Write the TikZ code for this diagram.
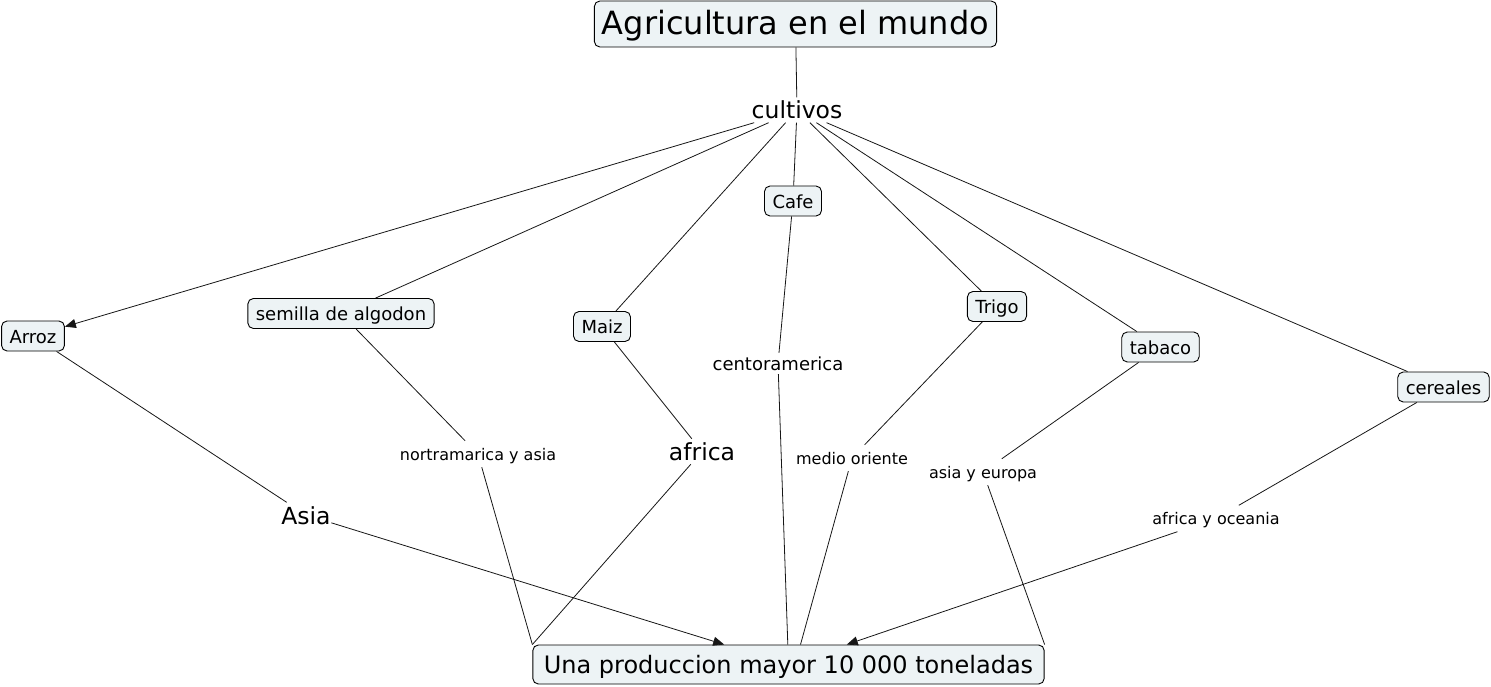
\documentclass[tikz,border=0pt]{standalone}
\usepackage{fontspec}
\setmainfont{DejaVu Sans}
\usetikzlibrary{arrows.meta}
\definecolor{ink}{HTML}{000000}
\definecolor{pale}{HTML}{EDF3F5}
\definecolor{wire}{HTML}{161616}
\tikzset{
  box/.style={draw=ink,line width=0.9pt,rounded corners=5.5pt,fill=pale,align=center,
    font=\fontsize{18}{20}\selectfont,inner xsep=8pt,inner ysep=6pt,
    text height=16pt,text depth=2pt},
  titlebox/.style={box,font=\fontsize{32}{35}\selectfont,inner xsep=7.5pt,inner ysep=7pt,
    text height=27pt,text depth=5pt},
  prodbox/.style={box,font=\fontsize{24}{27}\selectfont,inner xsep=11pt,inner ysep=7.5pt,
    text height=20.75pt,text depth=3.25pt},
  phrase/.style={font=\fontsize{16}{18}\selectfont,inner xsep=2pt,inner ysep=5pt,
    text height=14pt,text depth=2pt},
  midphrase/.style={phrase,font=\fontsize{18}{20}\selectfont,inner ysep=1.5pt,
    text height=15.5pt,text depth=2.5pt},
  bigphrase/.style={font=\fontsize{23.5}{26}\selectfont,inner xsep=0.5pt,inner ysep=1pt,
    text height=20.5pt,text depth=2.5pt},
  link/.style={draw=wire,line width=0.8pt},
  arr/.style={link,-{Triangle[length=11pt,width=9pt]}},
}
\begin{document}
\begin{tikzpicture}[x=1pt,y=-1pt]
  \useasboundingbox (0,0) rectangle (1491,687);
  \node[titlebox] (mundo) at (795.5,24) {Agricultura en el mundo};
  \node[bigphrase] (cultivos) at (797,110) {cultivos};
  \node[box] (arroz) at (33,336) {Arroz};
  \node[box] (semilla) at (341,313.5) {semilla de algodon};
  \node[box] (maiz) at (602,326.5) {Maiz};
  \node[box] (cafe) at (793,201) {Cafe};
  \node[box] (trigo) at (997,306.5) {Trigo};
  \node[box] (tabaco) at (1160.5,347) {tabaco};
  \node[box] (cereales) at (1443.5,387) {cereales};
  \node[bigphrase] (asia) at (306,515) {Asia};
  \node[phrase] (nortasia) at (478,454) {nortramarica y asia};
  \node[bigphrase] (africa) at (702,451.5) {africa};
  \node[midphrase] (centro) at (778,363.5) {centoramerica};
  \node[phrase] (medio) at (852,458) {medio oriente};
  \node[phrase] (asiaeur) at (983,472) {asia y europa};
  \node[phrase] (afroce) at (1216,518.5) {africa y oceania};
  \node[prodbox] (prod) at (788.5,664.5) {Una produccion mayor 10 000 toneladas};
  \draw[link] (mundo) -- (cultivos);
  \draw[arr] (cultivos) -- (arroz);
  \foreach \c in {semilla,maiz,cafe,trigo,tabaco,cereales}{
    \draw[link] (cultivos) -- (\c);
  }
  \foreach \c/\p in {arroz/asia,semilla/nortasia,maiz/africa,cafe/centro,trigo/medio,tabaco/asiaeur,cereales/afroce}{
    \draw[link] (\c) -- (\p);
  }
  \draw[arr] (asia) -- (prod);
  \draw[arr] (afroce) -- (prod);
  \draw[link] (nortasia) -- (prod.north west);
  \draw[link] (africa) -- (prod.north west);
  \draw[link] (centro) -- (prod);
  \draw[link] (medio) -- ([xshift=12pt]prod.north);
  \draw[link] (asiaeur) -- (prod.north east);
\end{tikzpicture}
\end{document}
